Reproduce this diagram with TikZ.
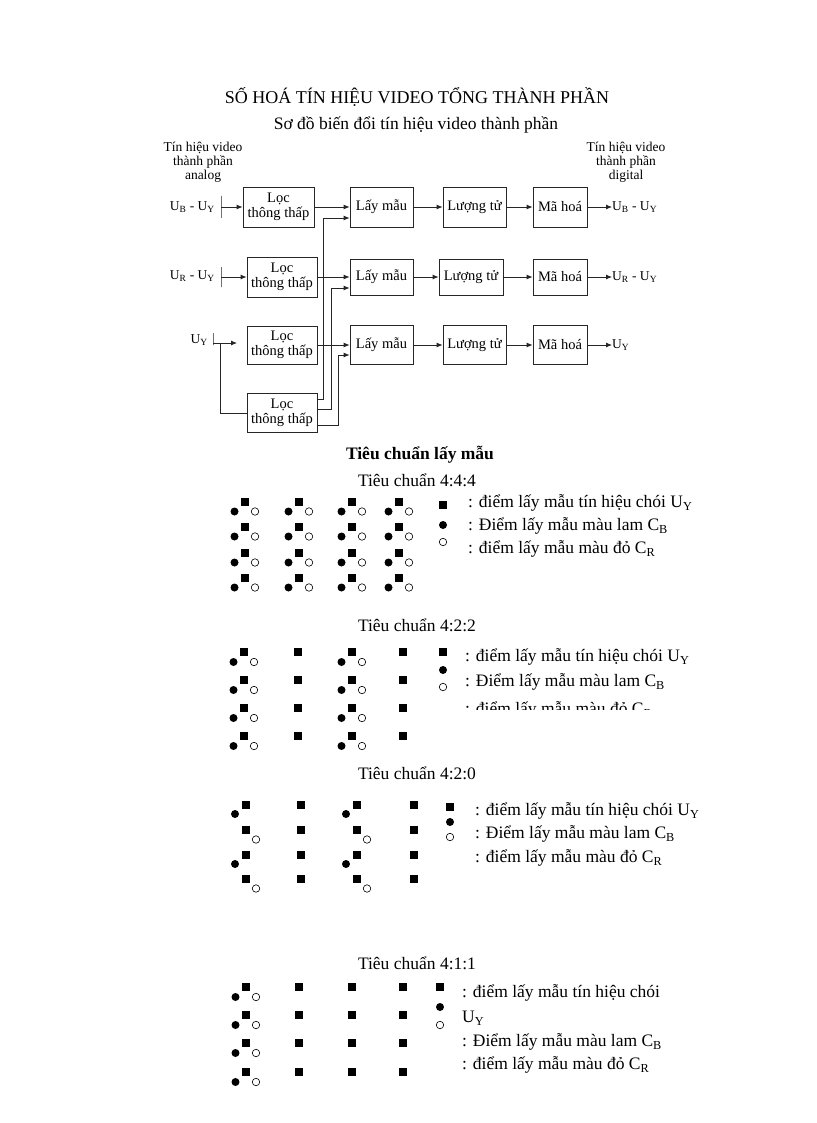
\documentclass[tikz,border=0pt]{standalone}
\usepackage{fontspec}
\setmainfont{Liberation Serif}
\usetikzlibrary{
  arrows.meta,
  positioning,
}
\tikzset{
  block/.style = {
      draw=black!85,
      line width=.8pt,
      minimum height=40pt,
      inner sep=1pt,
      align=center,
      font=\fontsize{14.5}{15}\selectfont,
    },
  arr/.style = {
      -{Latex[length=6pt,width=5pt]},
      line width=.8pt,
      draw=black!85,
    },
  wire/.style = {
      line width=.8pt,
      draw=black!85,
    },
  bar/.style = {
      draw=black!85,
      line width=.8pt,
      minimum width=0pt,
      inner sep=0pt,
      minimum height=#1,
    },
  bar/.default = 22pt,
  ysq/.style = {
      rectangle,
      fill=black,
      minimum size=8.5pt,
      inner sep=0pt,
    },
  cbdot/.style = {
      circle,
      fill=black,
      minimum size=8pt,
      inner sep=0pt,
    },
  crdot/.style = {
      circle,
      draw=black,
      fill=white,
      line width=.6pt,
      minimum size=7.5pt,
      inner sep=0pt,
    },
  lbl/.style = {
      inner sep=0pt,
      font=\fontsize{13.5}{14}\selectfont,
    },
  legend/.style = {
      anchor=west,
      inner sep=0pt,
      font=\fontsize{17.5}{17.5}\selectfont,
    },
  stdtitle/.style = {
      font=\fontsize{17.5}{17.5}\selectfont,
    },
}

\begin{document}
\begin{tikzpicture}[x=1pt, y=-1pt]
    \path[fill=white] (0,0) rectangle (816,1123);

    % headings
    \node[font=\fontsize{18}{18}\selectfont] (title) at (417,97) {SỐ HOÁ TÍN HIỆU VIDEO TỔNG THÀNH PHẦN};
    \node[font=\fontsize{17.5}{17.5}\selectfont] (subtitle) at (416,125) {Sơ đồ biến đổi tín hiệu video thành phần};
    \node[lbl, align=center] (anlbl) at (203,162) {Tín hiệu video\\thành phần\\analog};
    \node[lbl, align=center] (dglbl) at (626,162) {Tín hiệu video\\thành phần\\digital};

    % row 1
    \node[block, minimum width=71pt] (loc1)   at (278.5,207) {Lọc\\thông thấp};
    \node[block, minimum width=63pt] (lay1)   at (381.5,207) {Lấy mẫu};
    \node[block, minimum width=63pt] (luong1) at (474.5,207) {Lượng tử};
    \node[block, minimum width=54pt] (ma1)    at (560,207)   {Mã hoá};
    \node[lbl, anchor=east] (in1)  at (215,207) {U\textsubscript{B} - U\textsubscript{Y}};
    \node[lbl, anchor=west] (out1) at (612,207) {U\textsubscript{B} - U\textsubscript{Y}};
    \node[bar] (bar1) at (221,207) {};

    % row 2
    \node[block, minimum width=70pt] (loc2)   at (282,277)   {Lọc\\thông thấp};
    \node[block, minimum width=63pt, minimum height=36pt] (lay2)   at (381.5,277) {Lấy mẫu};
    \node[block, minimum width=64pt, minimum height=36pt] (luong2) at (471,277)   {Lượng tử};
    \node[block, minimum width=54pt, minimum height=36pt] (ma2)    at (560,277)   {Mã hoá};
    \node[lbl, anchor=east] (in2)  at (215,276) {U\textsubscript{R} - U\textsubscript{Y}};
    \node[lbl, anchor=west] (out2) at (612,277) {U\textsubscript{R} - U\textsubscript{Y}};
    \node[bar=20pt] (bar2) at (221,277) {};

    % row 3
    \node[block, minimum width=70pt, minimum height=38pt] (loc3)   at (282,345)   {Lọc\\thông thấp};
    \node[block, minimum width=63pt, minimum height=39pt] (lay3)   at (381.5,345) {Lấy mẫu};
    \node[block, minimum width=63pt, minimum height=39pt] (luong3) at (474.5,345) {Lượng tử};
    \node[block, minimum width=54pt, minimum height=39pt] (ma3)    at (560,345)   {Mã hoá};
    \node[lbl, anchor=east] (in3)  at (208,340) {U\textsubscript{Y}};
    \node[lbl, anchor=west] (out3) at (612,345) {U\textsubscript{Y}};
    \node[bar=12pt] (bar3) at (213,339) {};
    \coordinate (y3end) at (237,343);
    \coordinate (y3br)  at (220,343);

    % row 4 (extra filter)
    \node[block, minimum width=70pt, minimum height=39pt] (loc4) at (282,413) {Lọc\\thông thấp};

    % connectors
    \draw[arr] (bar1) -- (loc1);
    \draw[arr] (loc1) -- (lay1);
    \draw[arr] (lay1) -- (luong1);
    \draw[arr] (luong1) -- (ma1);
    \draw[arr] (ma1) -- (out1);

    \draw[arr] (bar2) -- (loc2);
    \draw[arr] (loc2) -- (lay2);
    \draw[arr] (lay2) -- (luong2);
    \draw[arr] (luong2) -- (ma2);
    \draw[arr] (ma2) -- (out2);

    \draw[arr] (bar3 |- y3end) -- (y3end);
    \draw[wire] (y3br) |- (loc4);
    \draw[arr] (loc3) -- (lay3);
    \draw[arr] (lay3) -- (luong3);
    \draw[arr] (luong3) -- (ma3);
    \draw[arr] (ma3) -- (out3);

    \draw[arr] ([yshift=14pt]loc4.east) -| (323,218) -- ([yshift=-11pt]lay1.west);
    \draw[arr] ([yshift=4pt]loc4.east) -| (331,288) -- ([yshift=-11pt]lay2.west);
    \draw[arr] ([yshift=-12pt]loc4.east) -| (338,355) -- ([yshift=-10pt]lay3.west);

    % sampling standards
    \node[font=\bfseries\fontsize{17.5}{17.5}\selectfont] (stdhead) at (420,455) {Tiêu chuẩn lấy mẫu};

    % 4:4:4
    \node[stdtitle] (t444) at (417,480) {Tiêu chuẩn 4:4:4};
    \foreach \c [count=\i] in {245,299,352,399}
      \foreach \r [count=\j] in {502,527,553,578} {
        \node[ysq]   (a\i\j) at (\c,\r) {};
        \node[cbdot] (b\i\j) at (\c-10.5,\r+9.5) {};
        \node[crdot] (c\i\j) at (\c+10,\r+9.5) {};
      }
    \node[ysq]   (ka1) at (443,505) {};
    \node[cbdot] (ka2) at (443,525) {};
    \node[crdot] (ka3) at (443,542) {};
    \node[legend] (ka1t) at (468,503) {: điểm lấy mẫu tín hiệu chói U\textsubscript{Y}};
    \node[legend] (ka2t) at (468,526) {: Điểm lấy mẫu màu lam C\textsubscript{B}};
    \node[legend] (ka3t) at (468,549) {: điểm lấy mẫu màu đỏ C\textsubscript{R}};

    % 4:2:2
    \node[stdtitle] (t422) at (417,625) {Tiêu chuẩn 4:2:2};
    \foreach \c [count=\i] in {244,352}
      \foreach \r [count=\j] in {652,680,708,736} {
        \node[ysq]   (d\i\j) at (\c,\r) {};
        \node[cbdot] (e\i\j) at (\c-10.5,\r+10) {};
        \node[crdot] (f\i\j) at (\c+10,\r+10) {};
      }
    \foreach \c [count=\i] in {298,403}
      \foreach \r [count=\j] in {652,680,708,736}
        \node[ysq] (g\i\j) at (\c,\r) {};
    \node[ysq]   (kb1) at (443,652) {};
    \node[cbdot] (kb2) at (443,670) {};
    \node[crdot] (kb3) at (443,687) {};
    \node[legend] (kb1t) at (465,657) {: điểm lấy mẫu tín hiệu chói U\textsubscript{Y}};
    \node[legend] (kb2t) at (465,682) {: Điểm lấy mẫu màu lam C\textsubscript{B}};
    \begin{scope}
      \clip (455,695) rectangle (740,709);
      \node[legend] (kb3t) at (465,710) {: điểm lấy mẫu màu đỏ C\textsubscript{R}};
    \end{scope}

    % 4:2:0
    \node[stdtitle] (t420) at (417,773) {Tiêu chuẩn 4:2:0};
    \foreach \c [count=\i] in {246,357} {
      \foreach \r [count=\j] in {805,855} {
        \node[ysq]   (h\i\j) at (\c,\r) {};
        \node[cbdot] (m\i\j) at (\c-11,\r+9) {};
      }
      \foreach \r [count=\j] in {830,879} {
        \node[ysq]   (n\i\j) at (\c,\r) {};
        \node[crdot] (o\i\j) at (\c+10,\r+9.5) {};
      }
    }
    \foreach \c [count=\i] in {301,414}
      \foreach \r [count=\j] in {805,830,855,879}
        \node[ysq] (p\i\j) at (\c,\r) {};
    \node[ysq]   (kc1) at (450,807) {};
    \node[cbdot] (kc2) at (450,822) {};
    \node[crdot] (kc3) at (450,837) {};
    \node[legend] (kc1t) at (475,811) {: điểm lấy mẫu tín hiệu chói U\textsubscript{Y}};
    \node[legend] (kc2t) at (475,834) {: Điểm lấy mẫu màu lam C\textsubscript{B}};
    \node[legend] (kc3t) at (475,858) {: điểm lấy mẫu màu đỏ C\textsubscript{R}};

    % 4:1:1
    \node[stdtitle] (t411) at (417,963) {Tiêu chuẩn 4:1:1};
    \foreach \r [count=\j] in {987,1015,1043,1072} {
      \node[ysq]   (q\j) at (246,\r) {};
      \node[cbdot] (s\j) at (235.5,\r+10) {};
      \node[crdot] (u\j) at (256,\r+10) {};
    }
    \foreach \c [count=\i] in {299,352,403}
      \foreach \r [count=\j] in {987,1015,1043,1072}
        \node[ysq] (v\i\j) at (\c,\r) {};
    \node[ysq]   (kd1) at (440,987) {};
    \node[cbdot] (kd2) at (440,1007) {};
    \node[crdot] (kd3) at (440,1025) {};
    \node[legend] (kd1t) at (462,993)  {: điểm lấy mẫu tín hiệu chói};
    \node[legend] (kd2t) at (462,1018) {U\textsubscript{Y}};
    \node[legend] (kd3t) at (462,1042) {: Điểm lấy mẫu màu lam C\textsubscript{B}};
    \node[legend] (kd4t) at (462,1065) {: điểm lấy mẫu màu đỏ C\textsubscript{R}};
\end{tikzpicture}
\end{document}
